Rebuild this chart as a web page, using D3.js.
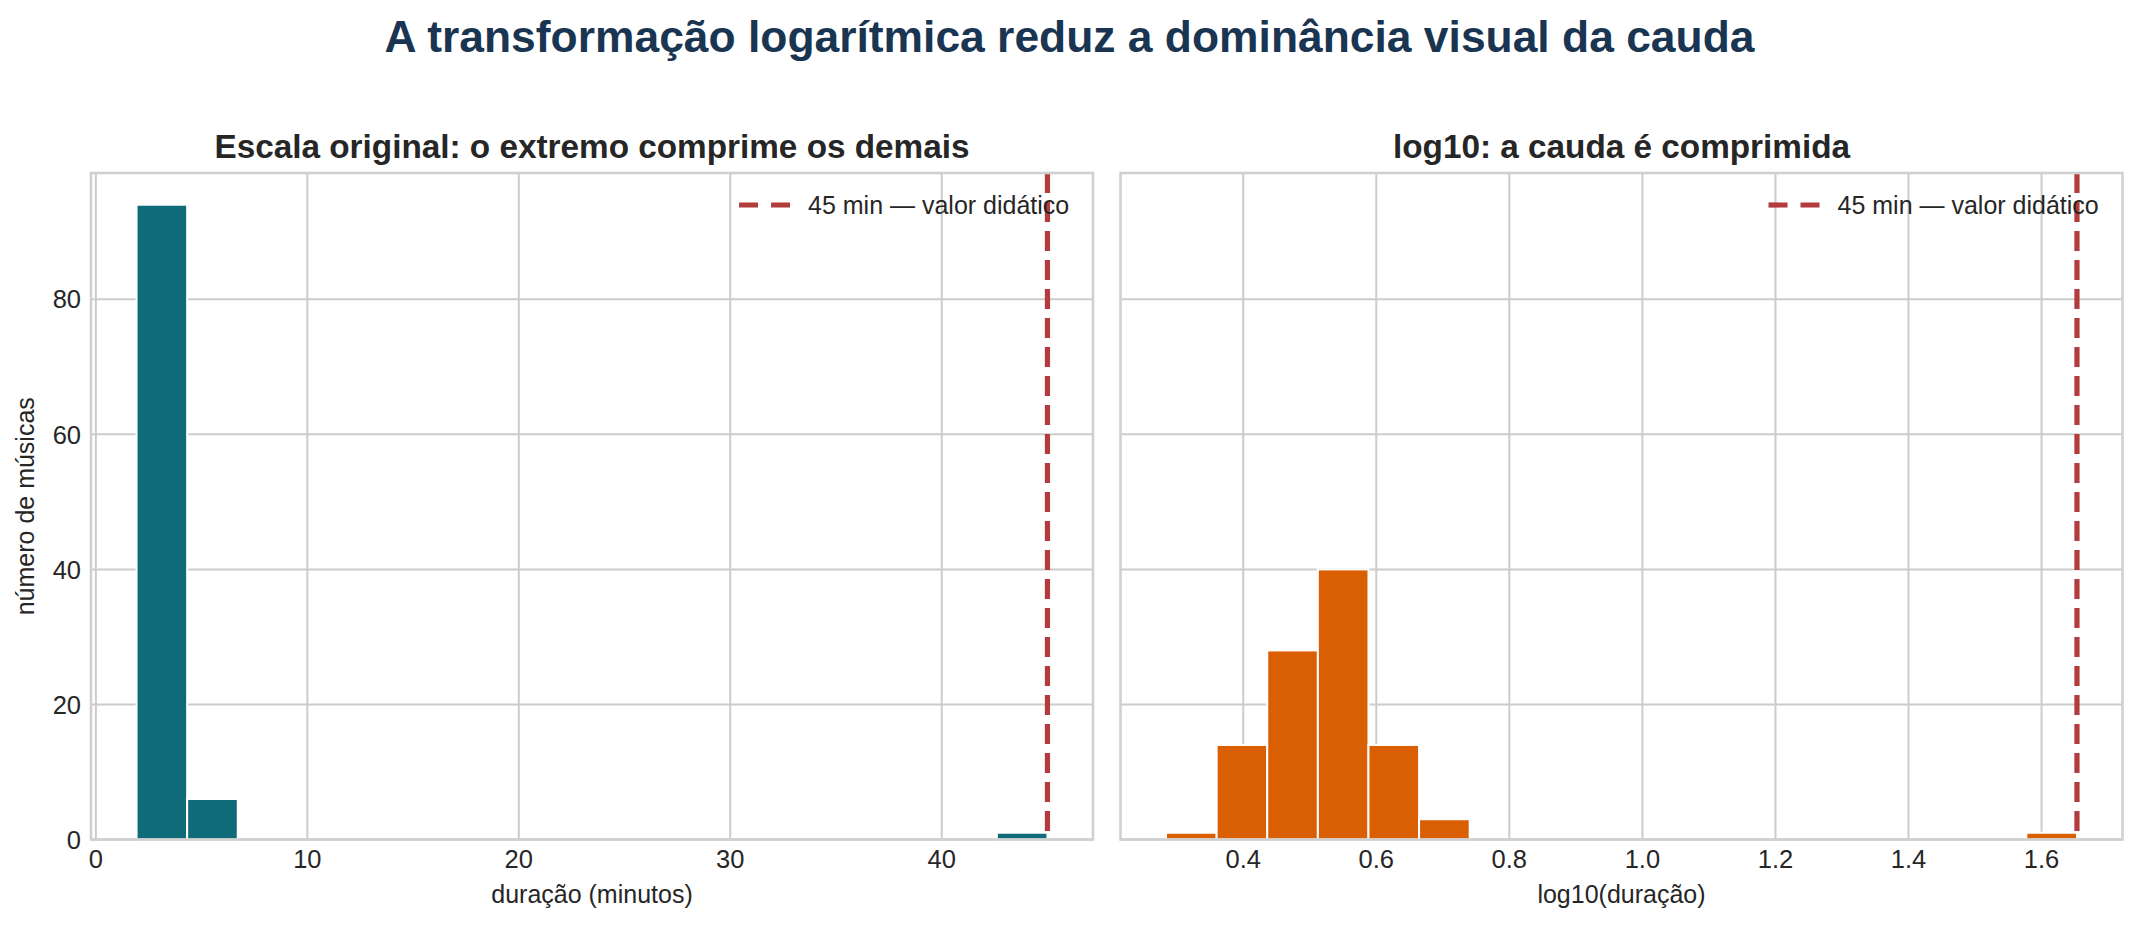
<!DOCTYPE html>
<html>
<head>
<meta charset="utf-8">
<script src="https://cdn.jsdelivr.net/npm/d3@7"></script>
<style>
  body { margin: 0; background: #fff; }
  text { font-family: "Liberation Sans", Arial, sans-serif; fill: #262626; }
</style>
</head>
<body>
<svg id="chart" width="2139" height="925"></svg>
<script>
// histograma na escala original (minutos), 18 classes
var durMin = 1.923, durMax = 45.0;
var durCounts = [94, 6, 0, 0, 0, 0, 0, 0, 0, 0, 0, 0, 0, 0, 0, 0, 0, 1];
var durTicks = [0, 10, 20, 30, 40];

// histograma de log10(duração), 18 classes
var logMin = 0.284, logMax = 1.6532;
var logCounts = [1, 14, 28, 40, 14, 3, 0, 0, 0, 0, 0, 0, 0, 0, 0, 0, 0, 1];
var logTicks = [0.4, 0.6, 0.8, 1.0, 1.2, 1.4, 1.6];

var countTicks = [0, 20, 40, 60, 80];
var refMinutes = 45;
var refLabel = '45 min — valor didático';

var svg = d3.select('#chart');

svg.append('text')
    .attr('x', 1069.5)
    .attr('y', 52)
    .attr('text-anchor', 'middle')
    .style('font-size', '44.4px')
    .style('font-weight', 'bold')
    .style('fill', '#1a3552')
    .text('A transformação logarítmica reduz a dominância visual da cauda');

var plotTop = 173, plotBottom = 839.5, plotWidth = 1002;
var yMax = d3.max(durCounts.concat(logCounts)) * 1.05;

var y = d3.scaleLinear()
    .domain([0, yMax])
    .range([plotBottom, plotTop]);

function bins(lo, hi, counts) {
    var w = (hi - lo) / counts.length;
    return counts.map(function (c, i) {
        return { x0: lo + i * w, x1: lo + (i + 1) * w, n: c };
    });
}

function panel(opts) {
    var pad = (opts.hi - opts.lo) * 0.05;
    var x = d3.scaleLinear()
        .domain([opts.lo - pad, opts.hi + pad])
        .range([opts.left, opts.left + plotWidth]);

    var g = svg.append('g');

    // grade
    g.selectAll('.gx')
        .data(opts.ticks)
        .enter().append('line')
        .attr('x1', function (d) { return x(d); })
        .attr('x2', function (d) { return x(d); })
        .attr('y1', plotTop)
        .attr('y2', plotBottom)
        .style('stroke', '#cccccc')
        .style('stroke-width', 2);

    g.selectAll('.gy')
        .data(countTicks)
        .enter().append('line')
        .attr('x1', opts.left)
        .attr('x2', opts.left + plotWidth)
        .attr('y1', function (d) { return y(d); })
        .attr('y2', function (d) { return y(d); })
        .style('stroke', '#cccccc')
        .style('stroke-width', 2);

    // barras
    g.selectAll('.bar')
        .data(bins(opts.lo, opts.hi, opts.counts).filter(function (d) { return d.n > 0; }))
        .enter().append('rect')
        .attr('x', function (d) { return x(d.x0); })
        .attr('width', function (d) { return x(d.x1) - x(d.x0); })
        .attr('y', function (d) { return y(d.n); })
        .attr('height', function (d) { return y(0) - y(d.n); })
        .style('fill', opts.color)
        .style('stroke', '#ffffff')
        .style('stroke-width', 2);

    // linha de referência
    g.append('line')
        .attr('x1', x(opts.ref))
        .attr('x2', x(opts.ref))
        .attr('y1', plotTop)
        .attr('y2', plotBottom)
        .style('stroke', '#b33a3d')
        .style('stroke-width', 5.2)
        .style('stroke-dasharray', '20,9');

    // bordas
    g.append('rect')
        .attr('x', opts.left)
        .attr('y', plotTop)
        .attr('width', plotWidth)
        .attr('height', plotBottom - plotTop)
        .style('fill', 'none')
        .style('stroke', '#d0d0d0')
        .style('stroke-width', 2.6);

    // rótulos do eixo x
    g.selectAll('.tx')
        .data(opts.ticks)
        .enter().append('text')
        .attr('x', function (d) { return x(d); })
        .attr('y', 868)
        .attr('text-anchor', 'middle')
        .style('font-size', '25.5px')
        .text(opts.fmt);

    if (opts.yLabels) {
        g.selectAll('.ty')
            .data(countTicks)
            .enter().append('text')
            .attr('x', opts.left - 10)
            .attr('y', function (d) { return y(d); })
            .attr('dy', '0.36em')
            .attr('text-anchor', 'end')
            .style('font-size', '25.5px')
            .text(function (d) { return d; });

        g.append('text')
            .attr('transform', 'translate(34,' + ((plotTop + plotBottom) / 2) + ') rotate(-90)')
            .attr('text-anchor', 'middle')
            .style('font-size', '25px')
            .text('número de músicas');
    }

    g.append('text')
        .attr('x', opts.left + plotWidth / 2)
        .attr('y', 903)
        .attr('text-anchor', 'middle')
        .style('font-size', '25px')
        .text(opts.xLabel);

    g.append('text')
        .attr('x', opts.left + plotWidth / 2)
        .attr('y', 158)
        .attr('text-anchor', 'middle')
        .style('font-size', '33.3px')
        .style('font-weight', 'bold')
        .text(opts.title);

    // legenda
    var r = opts.left + plotWidth;
    g.append('line')
        .attr('x1', r - 354)
        .attr('x2', r - 298)
        .attr('y1', 205)
        .attr('y2', 205)
        .style('stroke', '#b33a3d')
        .style('stroke-width', 5.2)
        .style('stroke-dasharray', '19,13');

    g.append('text')
        .attr('x', r - 285)
        .attr('y', 205)
        .attr('dy', '0.36em')
        .style('font-size', '25px')
        .text(refLabel);
}

panel({
    left: 91, lo: durMin, hi: durMax, counts: durCounts, ticks: durTicks,
    fmt: function (d) { return d; }, color: '#106b78', ref: refMinutes,
    yLabels: true, xLabel: 'duração (minutos)',
    title: 'Escala original: o extremo comprime os demais'
});

panel({
    left: 1120.5, lo: logMin, hi: logMax, counts: logCounts, ticks: logTicks,
    fmt: d3.format('.1f'), color: '#d95f02', ref: Math.log10(refMinutes),
    yLabels: false, xLabel: 'log10(duração)',
    title: 'log10: a cauda é comprimida'
});
</script>
</body>
</html>
